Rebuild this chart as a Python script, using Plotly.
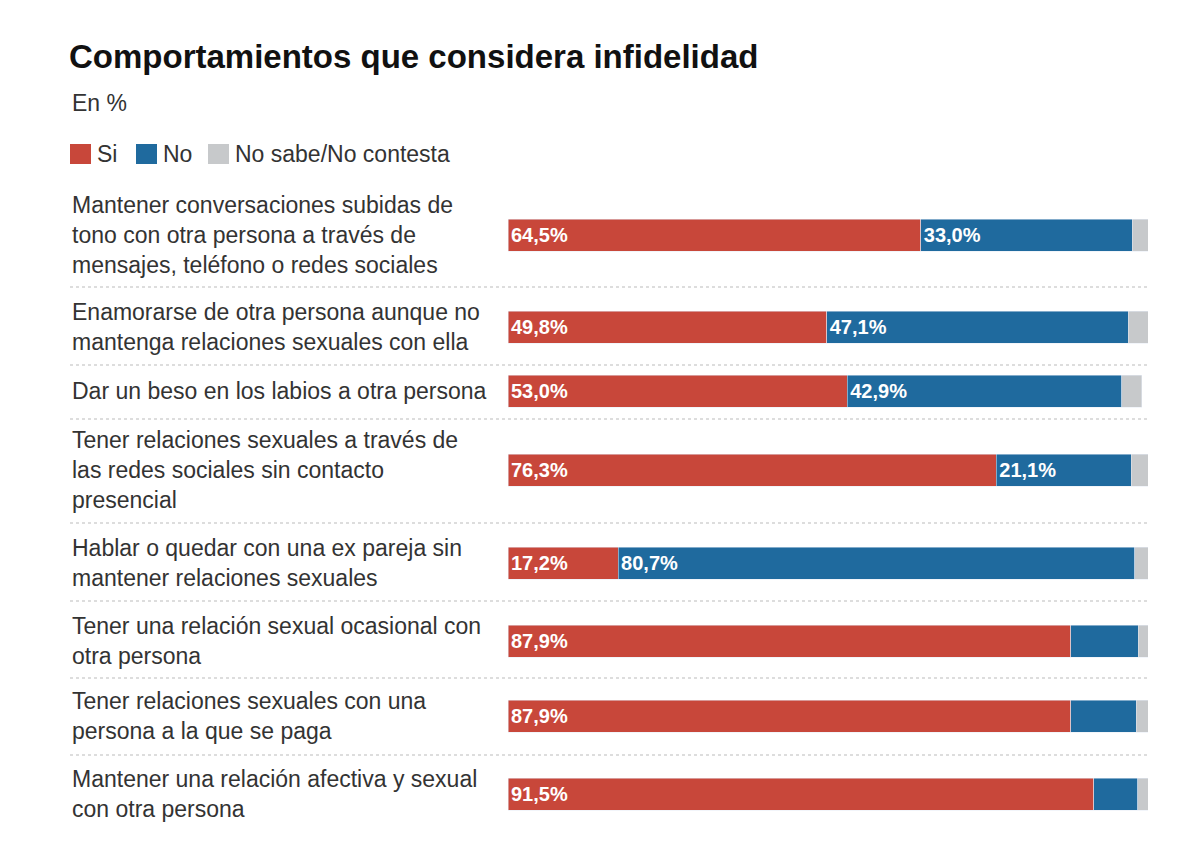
import plotly.graph_objects as go

categories = [
    "Mantener conversaciones subidas de<br>tono con otra persona a través de<br>mensajes, teléfono o redes sociales",
    "Enamorarse de otra persona aunque no<br>mantenga relaciones sexuales con ella",
    "Dar un beso en los labios a otra persona",
    "Tener relaciones sexuales a través de<br>las redes sociales sin contacto<br>presencial",
    "Hablar o quedar con una ex pareja sin<br>mantener relaciones sexuales",
    "Tener una relación sexual ocasional con<br>otra persona",
    "Tener relaciones sexuales con una<br>persona a la que se paga",
    "Mantener una relación afectiva y sexual<br>con otra persona",
]
si = [64.5, 49.8, 53.0, 76.3, 17.2, 87.9, 87.9, 91.5]
no = [33.0, 47.1, 42.9, 21.1, 80.7, 10.6, 10.3, 6.9]
nsnc = [2.5, 3.1, 3.1, 2.6, 2.1, 1.5, 1.8, 1.6]
no_labels = ["33,0%", "47,1%", "42,9%", "21,1%", "80,7%", "", "", ""]

# layout positions (pixels from top); page adds ~8px offset
OFF = 8
row_y = [235, 327, 391, 470, 563, 641, 716, 794]
sep_y = [287, 365, 419, 523, 601, 678, 755]

RED, BLUE, GREY = "#C8473A", "#1F6A9E", "#C7C9CB"
W, H = 1200, 860
px = lambda v: (v - OFF) / W
py = lambda v: 1 - (v - OFF) / H

fmt = lambda v: f"<b>{v:.1f}%</b>".replace(".", ",")
bar_font = dict(family="Liberation Sans Narrow, Liberation Sans, Arial", size=20, color="white")

fig = go.Figure()
fig.add_bar(y=[y - OFF for y in row_y], x=si, orientation="h", marker_color=RED, width=32,
            text=[fmt(v) for v in si], textposition="inside", insidetextanchor="start",
            textfont=bar_font, hoverinfo="skip")
fig.add_bar(y=[y - OFF for y in row_y], x=no, orientation="h", marker_color=BLUE, width=32,
            text=[f"<b>{t}</b>" if t else "" for t in no_labels], textposition="inside",
            insidetextanchor="start", textfont=bar_font, hoverinfo="skip")
fig.add_bar(y=[y - OFF for y in row_y], x=nsnc, orientation="h", marker_color=GREY, width=32,
            hoverinfo="skip")

txt = dict(family="Liberation Sans, Arial", size=23, color="#333333")
ann = []
for c, y in zip(categories, row_y):
    ann.append(dict(x=px(70), y=py(y), xref="paper", yref="paper", text=c, showarrow=False,
                    xanchor="left", yanchor="middle", align="left", font=txt))
ann.append(dict(x=px(67), y=py(57), xref="paper", yref="paper", showarrow=False, xanchor="left",
                yanchor="middle", text="<b>Comportamientos que considera infidelidad</b>",
                font=dict(family="Liberation Sans, Arial", size=33, color="#111111")))
ann.append(dict(x=px(70), y=py(103), xref="paper", yref="paper", showarrow=False, xanchor="left",
                yanchor="middle", text="En %", font=txt))
shapes = []
for lx, label, col in [(70, "Si", RED), (136, "No", BLUE), (208, "No sabe/No contesta", GREY)]:
    shapes.append(dict(type="rect", xref="paper", yref="paper", x0=px(lx), x1=px(lx + 21),
                       y0=py(164), y1=py(144), fillcolor=col, line_width=0))
    ann.append(dict(x=px(lx + 25), y=py(154), xref="paper", yref="paper", showarrow=False,
                    xanchor="left", yanchor="middle", text=label, font=txt))
for sy in sep_y:
    shapes.append(dict(type="line", xref="paper", yref="paper", x0=px(70), x1=px(1148),
                       y0=py(sy), y1=py(sy), line=dict(color="#BBBBBB", width=1, dash="dot")))

fig.update_layout(
    width=W, height=H, barmode="stack", showlegend=False,
    paper_bgcolor="white", plot_bgcolor="white",
    margin=dict(l=0, r=0, t=0, b=0),
    xaxis=dict(domain=[px(508), px(1148)], range=[0, 100], visible=False),
    yaxis=dict(range=[H, 0], visible=False),
    annotations=ann, shapes=shapes,
)
fig.write_html("out.html")
